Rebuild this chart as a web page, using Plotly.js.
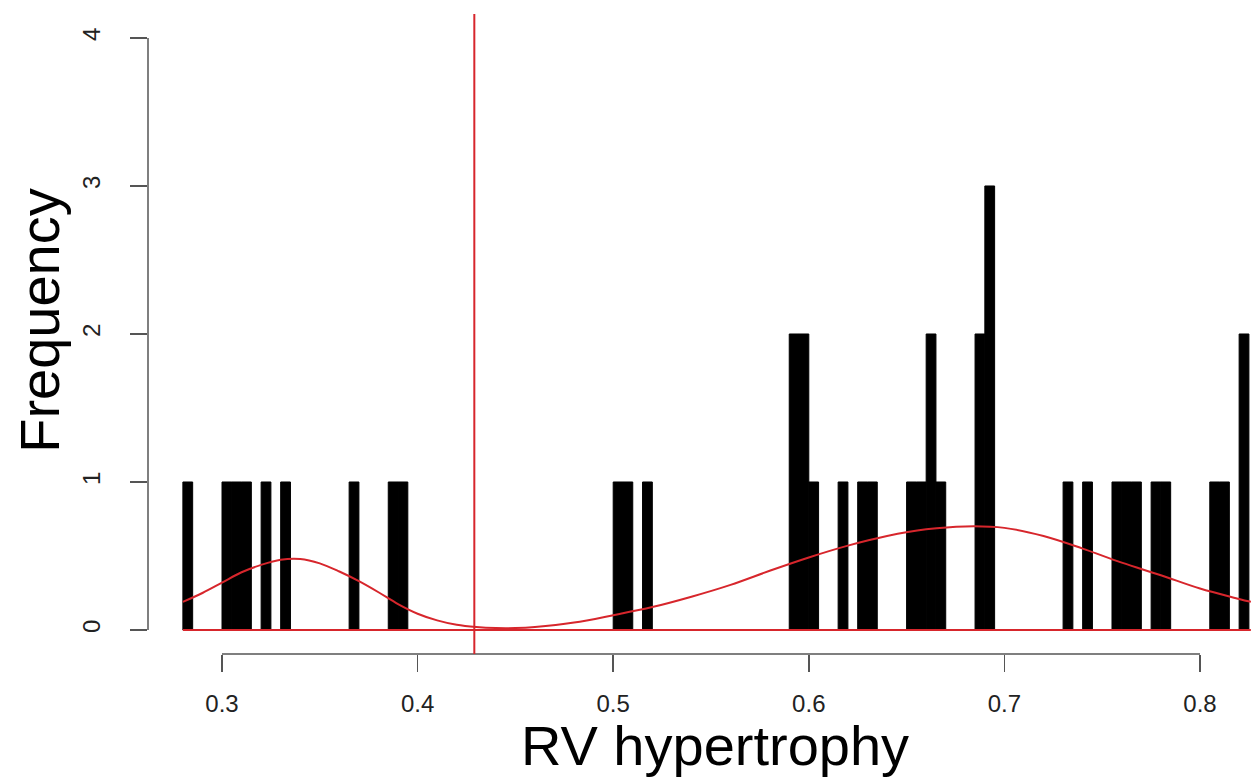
<!DOCTYPE html>
<html>
<head>
<meta charset="utf-8">
<script src="https://cdn.plot.ly/plotly-3.0.1.min.js"></script>
<style>html,body{margin:0;padding:0;background:#fff;}#chart{width:1251px;height:778px;}</style>
</head>
<body>
<div id="chart"></div>
<script>
// Histogram bins (left edge) and counts, bin width 0.005
var binStarts = [0.280, 0.300, 0.305, 0.310, 0.320, 0.330, 0.365, 0.385, 0.390,
                 0.500, 0.505, 0.515, 0.590, 0.595, 0.600, 0.615, 0.625, 0.630,
                 0.650, 0.655, 0.660, 0.665, 0.685, 0.690, 0.730, 0.740,
                 0.755, 0.760, 0.765, 0.775, 0.780, 0.805, 0.810, 0.820];
var binCounts = [1, 1, 1, 1, 1, 1, 1, 1, 1,
                 1, 1, 1, 2, 2, 1, 1, 1, 1,
                 1, 1, 2, 1, 2, 3, 1, 1,
                 1, 1, 1, 1, 1, 1, 1, 2];
var binWidth = 0.005;

// Red fitted density curve
var curveX = [0.28, 0.29, 0.30, 0.31, 0.32, 0.33, 0.34, 0.35, 0.36, 0.37, 0.38, 0.39, 0.40, 0.41, 0.42,
              0.43, 0.44, 0.45, 0.46, 0.48, 0.50, 0.52, 0.54, 0.56, 0.58, 0.60, 0.62, 0.64, 0.66,
              0.68, 0.70, 0.72, 0.74, 0.76, 0.78, 0.80, 0.82, 0.826];
var curveY = [0.19, 0.25, 0.32, 0.39, 0.44, 0.475, 0.48, 0.45, 0.395, 0.33, 0.255, 0.175, 0.11, 0.065, 0.035,
              0.02, 0.013, 0.013, 0.02, 0.05, 0.10, 0.155, 0.225, 0.305, 0.40, 0.49, 0.57, 0.635, 0.68,
              0.70, 0.69, 0.635, 0.55, 0.455, 0.37, 0.28, 0.21, 0.19];

var cutoff = 0.429;
var xTicks = [0.3, 0.4, 0.5, 0.6, 0.7, 0.8];
var yTicks = [0, 1, 2, 3, 4];

var red = '#d7262c';
var axisGray = '#555555';

var barX = binStarts.map(function(s){ return s + binWidth/2; });

var traces = [
  {
    type: 'bar', x: barX, y: binCounts, width: binWidth,
    marker: {color: '#000000', line: {color: '#000000', width: 1}},
    hoverinfo: 'x+y', showlegend: false
  },
  {
    type: 'scatter', mode: 'lines', x: [0.28, 0.826], y: [0, 0],
    line: {color: red, width: 2}, showlegend: false, hoverinfo: 'skip'
  },
  {
    type: 'scatter', mode: 'lines', x: curveX, y: curveY,
    line: {color: red, width: 2, shape: 'spline', smoothing: 1}, showlegend: false
  }
];

var layout = {
  width: 1251, height: 778,
  margin: {l: 148, r: 0, t: 14, b: 124},
  paper_bgcolor: '#ffffff', plot_bgcolor: '#ffffff',
  bargap: 0,
  font: {family: 'Liberation Sans, Arial, sans-serif', color: '#222222'},
  xaxis: {
    range: [0.26217, 0.82607],
    tickvals: xTicks, ticktext: xTicks.map(function(v){ return v.toFixed(1); }),
    ticks: 'outside', ticklen: 17, tickwidth: 1.5, tickcolor: axisGray,
    tickfont: {size: 24, color: '#222222'},
    ticklabelstandoff: 11,
    showgrid: false, zeroline: false, showline: false
  },
  yaxis: {
    range: [-0.1622, 4.162],
    tickvals: yTicks,
    ticks: 'outside', ticklen: 17, tickwidth: 1.5, tickcolor: axisGray,
    tickangle: -90,
    tickfont: {size: 24, color: '#222222'},
    ticklabelstandoff: 20,
    showgrid: false, zeroline: false, showline: false
  },
  annotations: [
    {text: 'RV hypertrophy', xref: 'paper', yref: 'paper', x: 0.514, y: -0.143,
     xanchor: 'center', yanchor: 'middle', showarrow: false, borderpad: 0,
     font: {size: 56, color: '#000000'}},
    {text: 'Frequency', xref: 'paper', yref: 'paper', x: -0.098, y: 0.522,
     xanchor: 'center', yanchor: 'middle', textangle: -90, showarrow: false, borderpad: 0,
     font: {size: 56, color: '#000000'}}
  ],
  shapes: [
    {type: 'line', xref: 'x', yref: 'paper', x0: 0.3, x1: 0.8, y0: 0, y1: 0,
     line: {color: axisGray, width: 1.5}},
    {type: 'line', xref: 'paper', yref: 'y', x0: 0, x1: 0, y0: 0, y1: 4,
     line: {color: axisGray, width: 1.5}},
    {type: 'line', xref: 'x', yref: 'paper', x0: cutoff, x1: cutoff, y0: 0, y1: 1,
     line: {color: red, width: 2}}
  ]
};

Plotly.newPlot('chart', traces, layout, {displayModeBar: false, staticPlot: true});
</script>
</body>
</html>
